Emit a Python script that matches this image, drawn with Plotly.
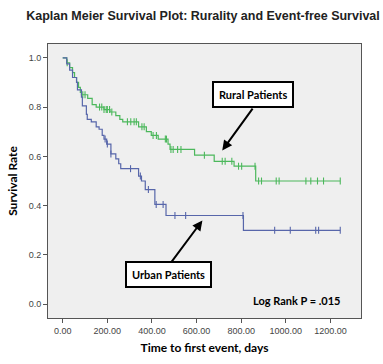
import plotly.graph_objects as go
import numpy as np

# Rural patients (green) - step times (days) and survival after step
rural_t = [0, 18, 31, 44, 53, 62, 71, 79, 84, 112, 132, 150, 185, 212, 238, 256, 269,
           340, 375, 397, 428, 472, 481, 591, 679, 768, 865, 1244]
rural_s = [1.0, 0.98, 0.96, 0.94, 0.92, 0.90, 0.88, 0.86, 0.85, 0.835, 0.81, 0.80, 0.79, 0.78, 0.765, 0.75, 0.74,
           0.72, 0.70, 0.685, 0.67, 0.65, 0.628, 0.605, 0.58, 0.56, 0.50, 0.50]
rural_censor = [20, 90, 100, 165, 175, 185, 195, 200, 210, 220, 290, 305, 320, 330, 355, 365,
                405, 420, 460, 465, 485, 495, 515, 530, 635, 715, 728, 758, 788, 802, 862,
                878, 891, 957, 970, 1090, 1112, 1142, 1169, 1244]

# Urban patients (blue)
urban_t = [0, 18, 31, 44, 62, 66, 84, 88, 106, 110, 128, 150, 163, 177, 185, 197, 216, 238,
           251, 260, 340, 353, 370, 413, 463, 810, 1244]
urban_s = [1.0, 0.975, 0.95, 0.92, 0.90, 0.87, 0.84, 0.805, 0.77, 0.75, 0.74, 0.72, 0.71, 0.685,
           0.67, 0.65, 0.61, 0.59, 0.57, 0.55, 0.52, 0.50, 0.465, 0.405, 0.36, 0.30, 0.30]
urban_censor = [190, 200, 216, 304, 348, 384, 419, 450, 503, 551, 808, 950, 1020, 1134, 1147, 1244]

x_ticks = [0, 200, 400, 600, 800, 1000, 1200]
x_labels = ["0.00", "200.00", "400.00", "600.00", "800.00", "1000.00", "1200.00"]
y_ticks = [0.0, 0.2, 0.4, 0.6, 0.8, 1.0]
y_labels = ["0.0", "0.2", "0.4", "0.6", "0.8", "1.0"]

GREEN = "#4cb85c"
BLUE = "#5766aa"


def step_value(times, surv, t):
    idx = np.searchsorted(np.array(times), t, side="right") - 1
    return surv[max(idx, 0)]


fig = go.Figure()
for times, surv, cens, col in [(rural_t, rural_s, rural_censor, GREEN),
                               (urban_t, urban_s, urban_censor, BLUE)]:
    fig.add_trace(go.Scatter(x=times, y=surv, mode="lines", line=dict(color=col, width=1.2, shape="hv"),
                             showlegend=False, hoverinfo="skip"))
    fig.add_trace(go.Scatter(x=cens, y=[step_value(times, surv, c) for c in cens], mode="markers",
                             marker=dict(symbol="line-ns", size=5, line=dict(color=col, width=1.1)),
                             showlegend=False, hoverinfo="skip"))

box_font = dict(family="Lato, Liberation Sans, sans-serif", size=11, color="black")
fig.add_annotation(x=851, y=0.852, text="<b>Rural Patients</b>", showarrow=False, font=box_font,
                   bordercolor="black", borderwidth=2, borderpad=5, bgcolor="white")
fig.add_annotation(x=476, y=0.12, text="<b>Urban Patients</b>", showarrow=False, font=box_font,
                   bordercolor="black", borderwidth=2, borderpad=5, bgcolor="white")
fig.add_annotation(x=715, y=0.624, ax=856, ay=0.80, axref="x", ayref="y", text="", showarrow=True,
                   arrowhead=2, arrowsize=1, arrowwidth=2, arrowcolor="black")
fig.add_annotation(x=626, y=0.34, ax=481, ay=0.164, axref="x", ayref="y", text="", showarrow=True,
                   arrowhead=2, arrowsize=1, arrowwidth=2, arrowcolor="black")
fig.add_annotation(x=1257, y=0.016, text="<b>Log Rank P = .015</b>", showarrow=False, xanchor="right",
                   yanchor="middle", font=box_font)

fig.update_layout(
    width=383, height=364,
    margin=dict(l=43, r=22, t=44, b=42),
    paper_bgcolor="white", plot_bgcolor="#efefef",
    title=dict(text="<b>Kaplan Meier Survival Plot: Rurality and Event-free Survival</b>",
               x=0.53, xanchor="center", y=0.956, yanchor="middle",
               font=dict(family="Liberation Sans, Arial, sans-serif", size=12.5, color="#222222")),
    xaxis=dict(range=[-66, 1337], tickmode="array", tickvals=x_ticks, ticktext=x_labels,
               ticks="outside", ticklen=4, tickcolor="#555555", showgrid=False, zeroline=False,
               showline=True, linecolor="#555555", linewidth=1, mirror=True,
               tickfont=dict(family="Liberation Sans, Arial, sans-serif", size=9, color="#444444"),
               title=dict(text="<b>Time to first event, days</b>", standoff=8,
                          font=dict(family="Lato, Liberation Sans, sans-serif", size=12, color="black"))),
    yaxis=dict(range=[-0.056, 1.056], tickmode="array", tickvals=y_ticks, ticktext=y_labels,
               ticks="outside", ticklen=4, tickcolor="#555555", showgrid=False, zeroline=False,
               showline=True, linecolor="#555555", linewidth=1, mirror=True,
               tickfont=dict(family="Liberation Sans, Arial, sans-serif", size=9, color="#444444"),
               title=dict(text="<b>Survival Rate</b>", standoff=8,
                          font=dict(family="Lato, Liberation Sans, sans-serif", size=12, color="black"))),
)

fig.write_html("out.html", config={"displayModeBar": False},
               post_script="document.body.style.margin='0';document.body.style.padding='0';")
